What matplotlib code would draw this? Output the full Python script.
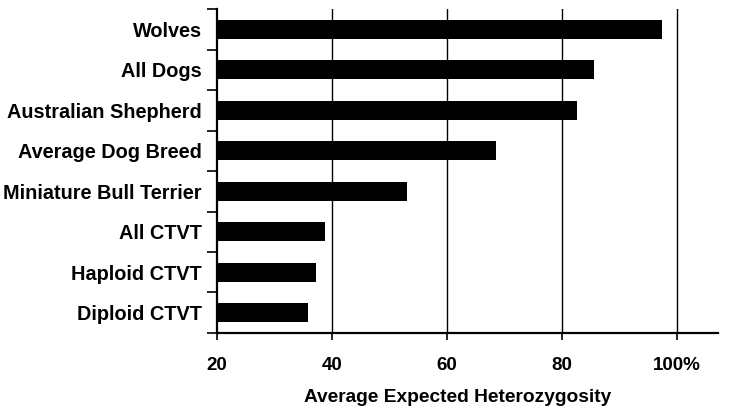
import numpy as np
import matplotlib
matplotlib.use("Agg")
import matplotlib.pyplot as plt

# data, top to bottom
groups = ["Wolves", "All Dogs", "Australian Shepherd", "Average Dog Breed",
          "Miniature Bull Terrier", "All CTVT", "Haploid CTVT", "Diploid CTVT"]
heterozygosity = [97.5, 85.7, 82.6, 68.6, 53.0, 38.8, 37.2, 35.9]
xticks = [20, 40, 60, 80, 100]
xtick_labels = ["20", "40", "60", "80", "100%"]

plt.rcParams['font.family'] = ['Liberation Sans', 'DejaVu Sans']
plt.rcParams['font.weight'] = 'bold'

fig = plt.figure(figsize=(7.54, 4.11), dpi=100)
ax = fig.add_axes([0.2878, 0.1898, 0.6645, 0.7882])

y = np.arange(len(groups))
left = xticks[0]
ax.barh(y, np.array(heterozygosity) - left, left=left, height=0.47,
        color="black", zorder=3)

ax.set_xlim(20, 107.2)
ax.set_ylim(len(groups) - 0.5, -0.5)

for v in xticks[1:]:
    ax.axvline(v, color="black", lw=1.0, zorder=1)

ax.spines["top"].set_visible(False)
ax.spines["right"].set_visible(False)
ax.spines["left"].set_linewidth(1.6)
ax.spines["bottom"].set_linewidth(1.6)

ax.set_xticks(xticks)
ax.set_xticklabels(xtick_labels, fontsize=13.5, fontweight="bold")
ax.tick_params(axis="x", direction="out", length=5, width=1.2, pad=12)

# boundaries as major ticks, labels on minor ticks at bar centres
ax.set_yticks(np.arange(len(groups) + 1) - 0.5)
ax.set_yticklabels([])
ax.tick_params(axis="y", which="major", direction="out", length=7, width=1.2)
ax.set_yticks(y, minor=True)
ax.set_yticklabels(groups, minor=True, fontsize=14.3, fontweight="bold")
ax.tick_params(axis="y", which="minor", length=0, pad=11)

ax.set_xlabel("Average Expected Heterozygosity", fontsize=13.8, fontweight="bold")
ax.xaxis.set_label_coords(0.481, -0.172)

fig.savefig("out.png", dpi=100)
